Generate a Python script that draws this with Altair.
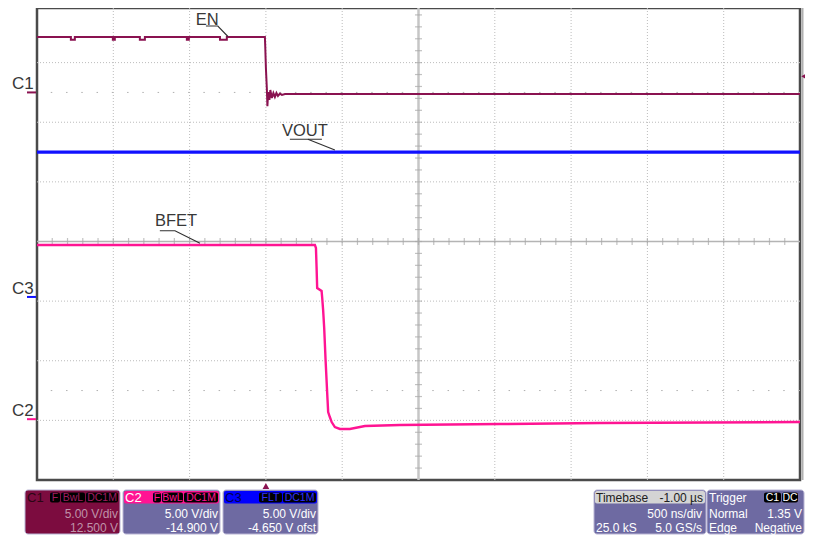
import altair as alt
import pandas as pd

FONT = "Liberation Sans"

# ---------------- scope settings ----------------
T_MIN, T_MAX = -1.5, 3.5          # µs, trigger at 0 (500 ns/div, 10 div)
VDIV = 5.0                        # V/div for all channels
C1_OFFSET = 12.5
C2_OFFSET = -14.9
C3_OFFSET = -4.65
TRIG_LEVEL = 1.35                 # V on C1

# ---------------- waveform data ----------------
en_t = [-1.5, -1.278, -1.278, -1.252, -1.252, -1.003, -1.003, -0.990, -0.990,
        -0.826, -0.826, -0.793, -0.793, -0.518, -0.518, -0.505, -0.505,
        -0.301, -0.301, -0.256, -0.256,
        -0.0066, -0.0046, 0.0, 0.0066, 0.0098, 0.015, 0.023, 0.029, 0.039,
        0.049, 0.059, 0.069, 0.079, 0.092, 0.105, 0.125, 3.5]
en_v = [4.65, 4.65, 4.42, 4.42, 4.65, 4.65, 4.42, 4.42, 4.65,
        4.65, 4.42, 4.42, 4.65, 4.65, 4.42, 4.42, 4.65,
        4.65, 4.42, 4.42, 4.65,
        4.65, 3.98, 2.05, 0.2, -1.15, 0.04, -0.63, 0.2, -0.47,
        -0.05, -0.38, -0.05, -0.3, -0.1, -0.21, -0.13, -0.13]

vout_t = [-1.5, 3.5]
vout_v = [12.15, 12.15]

bfet_t = [-1.5, 0.321, 0.328, 0.332, 0.336, 0.365, 0.369, 0.375, 0.382, 0.391,
          0.404, 0.408, 0.419, 0.431, 0.452, 0.485, 0.550, 0.649, 0.878,
          1.533, 2.189, 3.5]
bfet_v = [14.61, 14.61, 14.35, 12.76, 11.0, 10.75, 10.16, 9.16, 7.65, 4.96,
          1.61, 0.6, 0.18, -0.24, -0.66, -0.82, -0.82, -0.57, -0.49,
          -0.41, -0.32, -0.24]

# trace labels (t in µs, position in divisions) and their leader lines
label_text = ["EN", "VOUT", "BFET"]
label_t = [-0.459, 0.105, -0.727]
label_d = [3.639, 1.774, 0.26]
leader_seg = [0, 0, 0, 1, 1, 2, 2, 3, 3, 3]
leader_t = [-0.393, -0.315, -0.249, 0.157, 0.367, 0.275, 0.452, -0.695, -0.596, -0.432]
leader_d = [3.614, 3.614, 3.438, 1.714, 1.714, 1.714, 1.535, 0.181, 0.181, -0.030]

channels = ["C1", "C3", "C2"]
channel_offsets = [C1_OFFSET, C3_OFFSET, C2_OFFSET]

grid_t = [-1.0, -0.5, 0.0, 0.5, 1.5, 2.0, 2.5, 3.0]
grid_d = [-3, -2, -1, 1, 2, 3]
half_d = [2.5, -2.5]

# ---------------- colours ----------------
COL_C1 = "#8a1250"
COL_C2 = "#ff1493"
COL_C3 = "#1010ff"
BOX_C1 = "#7c0c3f"
PURPLE = "#6e6aa2"
BOX_EDGE = "#b8b4d4"


def to_div(vals, off):
    return [(v + off) / VDIV for v in vals]


def trace_df(t, v, off):
    return pd.DataFrame({"t": t, "d": to_div(v, off), "i": list(range(len(t)))})


en_df = trace_df(en_t, en_v, C1_OFFSET)
vout_df = trace_df(vout_t, vout_v, C3_OFFSET)
bfet_df = trace_df(bfet_t, bfet_v, C2_OFFSET)

xs = alt.Scale(domain=[T_MIN, T_MAX], nice=False, zero=False)
ys = alt.Scale(domain=[-4, 3.916], nice=False, zero=False)


def X(f="t"):
    return alt.X(f"{f}:Q", scale=xs, axis=None)


def Y(f="d"):
    return alt.Y(f"{f}:Q", scale=ys, axis=None)


layers = []

# grid
layers.append(alt.Chart(pd.DataFrame({"t": grid_t})).mark_rule(
    color="#bcbcbc", strokeWidth=1, strokeDash=[1, 2]).encode(x=X()))
layers.append(alt.Chart(pd.DataFrame({"d": grid_d})).mark_rule(
    color="#bcbcbc", strokeWidth=1, strokeDash=[1, 2]).encode(y=Y()))
layers.append(alt.Chart(pd.DataFrame({"d": half_d})).mark_rule(
    color="#b0b0b0", strokeWidth=1, strokeDash=[1.5, 13.76]).encode(y=Y()))
# center axes
layers.append(alt.Chart(pd.DataFrame({"t": [1.0]})).mark_rule(
    color="#c6c6c6", strokeWidth=2.5).encode(x=X()))
layers.append(alt.Chart(pd.DataFrame({"d": [0.0]})).mark_rule(
    color="#b4b4b4", strokeWidth=1.5).encode(y=Y()))
tick_t = [round(T_MIN + 0.1 * k, 3) for k in range(1, 50)]
tick_d = [round(-4 + 0.2 * k, 3) for k in range(1, 40)]
layers.append(alt.Chart(pd.DataFrame({"t": tick_t, "d": [0.0] * len(tick_t)})).mark_tick(
    orient="vertical", size=7, thickness=1.2, color="#a8a8a8").encode(x=X(), y=Y()))
layers.append(alt.Chart(pd.DataFrame({"t": [1.0] * len(tick_d), "d": tick_d})).mark_tick(
    orient="horizontal", size=7, thickness=1.2, color="#a8a8a8").encode(x=X(), y=Y()))

# traces
layers.append(alt.Chart(vout_df).mark_line(color=COL_C3, strokeWidth=3.2, clip=True).encode(
    x=X(), y=Y(), order="i:Q"))
layers.append(alt.Chart(en_df).mark_line(color=COL_C1, strokeWidth=2, clip=True).encode(
    x=X(), y=Y(), order="i:Q"))
layers.append(alt.Chart(bfet_df).mark_line(color=COL_C2, strokeWidth=2.4, clip=True).encode(
    x=X(), y=Y(), order="i:Q"))

# labels + leaders
lead_df = pd.DataFrame({"seg": leader_seg, "t": leader_t, "d": leader_d,
                        "i": list(range(len(leader_t)))})
layers.append(alt.Chart(lead_df).mark_line(color="#303030", strokeWidth=1.1).encode(
    x=X(), y=Y(), detail="seg:N", order="i:Q"))
layers.append(alt.Chart(pd.DataFrame({"t": label_t, "d": label_d, "s": label_text})).mark_text(
    align="left", baseline="alphabetic", font=FONT, fontSize=16.5, color="#383838").encode(
    x=X(), y=Y(), text="s:N"))

# channel ground markers at left
ch_df = pd.DataFrame({"ch": channels, "d": [o / VDIV for o in channel_offsets],
                      "col": [COL_C1, COL_C3, COL_C2]})
layers.append(alt.Chart(ch_df).mark_text(
    align="left", baseline="alphabetic", font=FONT, fontSize=17, color="#383838", dy=-3).encode(
    x=alt.value(-25), y=Y(), text="ch:N"))
layers.append(alt.Chart(ch_df).mark_rule(strokeWidth=2).encode(
    x=alt.value(-10), x2=alt.value(-1), y=Y(), color=alt.Color("col:N", scale=None)))

# right border shadow
layers.append(alt.Chart(pd.DataFrame({"k": [0]})).mark_rule(color="#b0b0b0", strokeWidth=2).encode(
    x=alt.value(765.5), y=alt.value(0), y2=alt.value(472)))

# trigger markers
layers.append(alt.Chart(pd.DataFrame({"t": [0.0]})).mark_point(
    shape="triangle-up", filled=True, size=45, color=COL_C1, opacity=1).encode(
    x=X(), y=alt.value(478)))
layers.append(alt.Chart(pd.DataFrame({"d": [(TRIG_LEVEL + C1_OFFSET) / VDIV]})).mark_point(
    shape="triangle-left", filled=True, size=40, color=COL_C1, opacity=1).encode(
    x=alt.value(767), y=Y()))

# ---------------- info boxes (page-pixel layout) ----------------
PX0, PY0 = 37, 8
ONE = pd.DataFrame({"k": [0]})


def rect(x1, x2, y1, y2, fill, stroke=None, r=3):
    kw = dict(fill=fill, cornerRadius=r, opacity=1)
    if stroke:
        kw.update(stroke=stroke, strokeWidth=1)
    else:
        kw.update(strokeWidth=0)
    return alt.Chart(ONE).mark_rect(**kw).encode(
        x=alt.value(x1 - PX0), x2=alt.value(x2 - PX0),
        y=alt.value(y1 - PY0), y2=alt.value(y2 - PY0))


def txt(x, y, s, color, size=12, align="left"):
    return alt.Chart(ONE).mark_text(
        text=s, align=align, baseline="alphabetic", font=FONT, fontSize=size, color=color).encode(
        x=alt.value(x - PX0), y=alt.value(y - PY0))


Y_TOP, Y_HEAD, Y_BOT = 490, 503.5, 534
L1, L2, LH = 517.5, 531.5, 502

ch_boxes = [
    dict(x1=25, x2=120, head=BOX_C1, body=BOX_C1, name="C1", name_col="#2a0614",
         badge_col="#a01c60", badges=[(50, 60, "F"), (61, 85, "BwL"), (86, 118, "DC1M")],
         lines=["5.00 V/div", "12.500 V"], text_col="#bf93a9"),
    dict(x1=123, x2=220, head=COL_C2, body=PURPLE, name="C2", name_col="#ffffff",
         badge_col=COL_C2, badges=[(153, 161, "F"), (162, 183, "BwL"), (184, 218, "DC1M")],
         lines=["5.00 V/div", "-14.900 V"], text_col="#ffffff"),
    dict(x1=223, x2=318, head="#0000ff", body=PURPLE, name="C3", name_col="#000050",
         badge_col="#3030ff", badges=[(259, 282, "FLT"), (283, 316, "DC1M")],
         lines=["5.00 V/div", "-4.650 V ofst"], text_col="#ffffff"),
]
for b in ch_boxes:
    layers.append(rect(b["x1"], b["x2"], Y_TOP, Y_BOT, b["body"], BOX_EDGE))
    layers.append(rect(b["x1"] + 1, b["x2"] - 1, Y_TOP + 1, Y_HEAD, b["head"], r=2))
    layers.append(txt(b["x1"] + 2, LH, b["name"], b["name_col"], size=13))
    for (a, c, s) in b["badges"]:
        layers.append(rect(a, c, 492.5, 502.5, "#000000", r=2))
        layers.append(txt((a + c) / 2, 501.3, s, b["badge_col"], size=10.5, align="center"))
    layers.append(txt(b["x2"] - 2, L1, b["lines"][0], b["text_col"], align="right"))
    layers.append(txt(b["x2"] - 2, L2, b["lines"][1], b["text_col"], align="right"))

# timebase box
TB0 = 594
layers.append(rect(TB0, TB0 + 112, Y_TOP, Y_BOT, PURPLE, BOX_EDGE))
layers.append(rect(TB0 + 1, TB0 + 111, Y_TOP + 1, Y_HEAD, "#d4d4d4", r=2))
layers.append(txt(TB0 + 2, LH, "Timebase", "#202020"))
layers.append(txt(TB0 + 109, LH, "-1.00 \u00b5s", "#202020", align="right"))
layers.append(txt(TB0 + 108, L1, "500 ns/div", "#ffffff", align="right"))
layers.append(txt(TB0 + 2, L2, "25.0 kS", "#ffffff"))
layers.append(txt(TB0 + 108, L2, "5.0 GS/s", "#ffffff", align="right"))

# trigger box
TR0 = 707
layers.append(rect(TR0, TR0 + 97, Y_TOP, Y_BOT, PURPLE, BOX_EDGE))
layers.append(txt(TR0 + 2, LH, "Trigger", "#ffffff"))
for (a, c, s) in [(TR0 + 57, TR0 + 74, "C1"), (TR0 + 75, TR0 + 91, "DC")]:
    layers.append(rect(a, c, 492.5, 502.5, "#000000", r=2))
    layers.append(txt((a + c) / 2, 501.3, s, "#ffffff", size=10.5, align="center"))
layers.append(txt(TR0 + 2, L1, "Normal", "#ffffff"))
layers.append(txt(TR0 + 95, L1, "1.35 V", "#ffffff", align="right"))
layers.append(txt(TR0 + 2, L2, "Edge", "#ffffff"))
layers.append(txt(TR0 + 95, L2, "Negative", "#ffffff", align="right"))

chart = alt.layer(*layers).properties(
    width=763, height=472,
    padding={"left": 29, "top": 0, "right": 5, "bottom": 56},
    autosize=alt.AutoSizeParams(type="none"),
    background="#ffffff",
).configure_view(stroke="#4a4a4a", strokeWidth=2.5)

chart.save("out.html", embed_options={"renderer": "svg", "actions": False})
